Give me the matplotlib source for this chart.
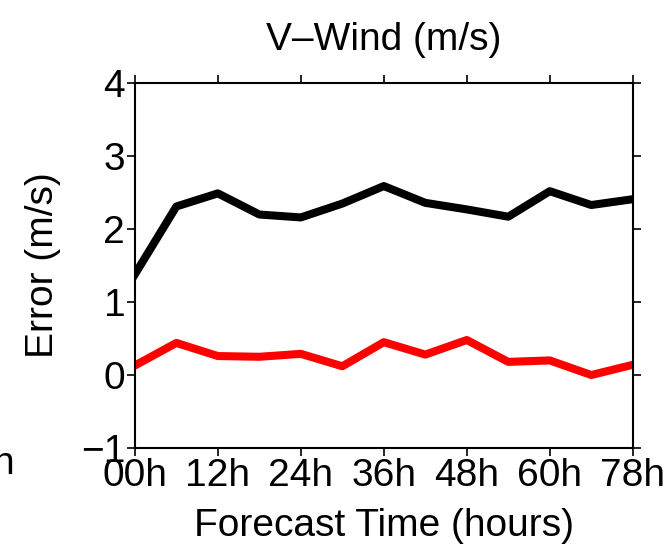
import numpy as np
import matplotlib
matplotlib.use("Agg")
import matplotlib.pyplot as plt

plt.rcParams['font.family'] = ['Liberation Sans', 'DejaVu Sans']

hours = [0, 6, 12, 18, 24, 30, 36, 42, 48, 54, 60, 66, 72]
rmse = [1.38, 2.31, 2.49, 2.2, 2.16, 2.35, 2.59, 2.36, 2.27, 2.17, 2.52, 2.33, 2.41]
bias = [0.13, 0.44, 0.26, 0.25, 0.29, 0.12, 0.45, 0.28, 0.48, 0.18, 0.2, 0.0, 0.14]

tick_pos = [0, 12, 24, 36, 48, 60, 72]
tick_lab = ['00h', '12h', '24h', '36h', '48h', '60h', '78h']

fig = plt.figure(figsize=(6.71, 5.51), dpi=100)
ax = fig.add_axes([0.201, 0.187, 0.742, 0.662])

ax.plot(hours, rmse, color='black', linewidth=5.8, solid_joinstyle='round')
ax.plot(hours, bias, color='red', linewidth=5.8, solid_joinstyle='round')

ax.set_xlim(0, 72)
ax.set_ylim(-1, 4)
ax.set_xticks(tick_pos)
ax.set_xticklabels(tick_lab)
ax.set_yticks([-1, 0, 1, 2, 3, 4])
ax.set_yticklabels(['\u22121', '0', '1', '2', '3', '4'])

ax.tick_params(axis='both', direction='out', length=6, width=1.2, labelsize=28, pad=1,
               top=True, right=True)
for s in ax.spines.values():
    s.set_linewidth(1.5)

ax.set_title('V\u2013Wind (m/s)', fontsize=28, pad=24)
ax.set_xlabel('Forecast Time (hours)', fontsize=28, labelpad=10)
ax.set_ylabel('Error (m/s)', fontsize=28, labelpad=14)

# clipped tick label from neighbouring panel
fig.text(-0.012, 0.14, 'h', fontsize=28)

plt.savefig('out.png', dpi=100)
